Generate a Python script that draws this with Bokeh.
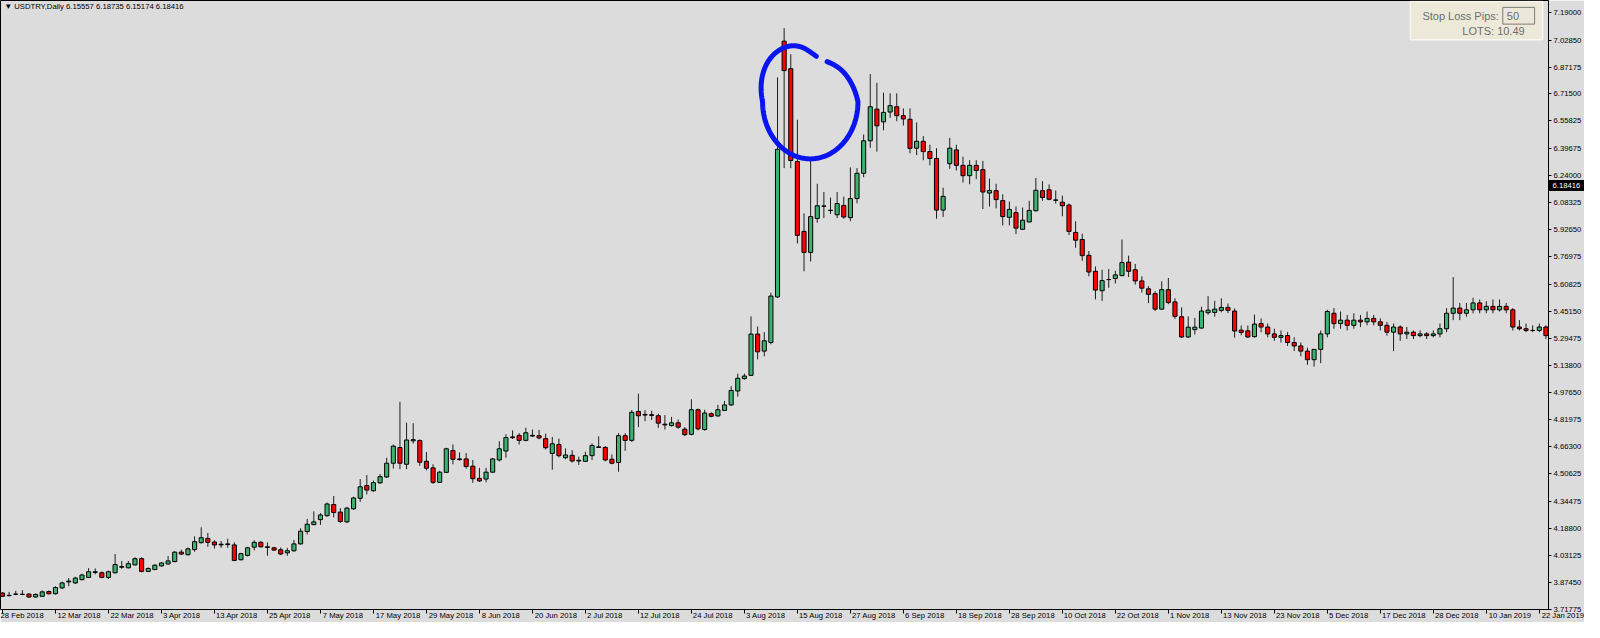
import numpy as np
from bokeh.plotting import figure
from bokeh.models import (ColumnDataSource, Range1d, FixedTicker, PrintfTickFormatter,
                          Label, BoxAnnotation, LinearAxis)
from bokeh.embed import file_html
from bokeh.resources import INLINE

# ---------------- data (bar index 0 = 28 Feb 2018) ----------------
opens = [3.813,3.800,3.806,3.805,3.807,3.790,3.794,3.822,3.809,3.843,
         3.878,3.872,3.891,3.904,3.933,3.931,3.904,3.931,3.963,3.960,
         3.977,4.013,3.939,3.950,3.971,3.982,3.996,4.051,4.036,4.066,
         4.106,4.131,4.110,4.097,4.095,4.093,4.007,4.032,4.080,4.108,
         4.082,4.076,4.065,4.047,4.059,4.099,4.171,4.211,4.240,4.263,
         4.328,4.284,4.227,4.303,4.364,4.438,4.408,4.454,4.488,4.568,
         4.659,4.562,4.698,4.700,4.579,4.541,4.457,4.515,4.642,4.593,
         4.593,4.551,4.480,4.476,4.516,4.587,4.639,4.717,4.730,4.701,
         4.726,4.728,4.711,4.625,4.677,4.600,4.614,4.585,4.579,4.612,
         4.663,4.660,4.591,4.572,4.728,4.701,4.869,4.852,4.850,4.844,
         4.795,4.787,4.803,4.766,4.736,4.879,4.764,4.856,4.843,4.875,
         4.907,4.988,5.060,5.079,5.319,5.220,5.270,5.535,7.022,6.862,
         6.322,5.916,5.794,5.991,6.062,6.039,6.013,6.067,5.996,6.107,
         6.254,6.443,6.627,6.553,6.610,6.641,6.589,6.568,6.400,6.440,
         6.380,6.340,6.040,6.310,6.390,6.300,6.240,6.300,6.275,6.139,
         6.153,6.095,5.998,6.025,5.928,5.971,6.036,6.153,6.158,6.099,
         6.086,6.069,5.910,5.869,5.777,5.684,5.571,5.636,5.642,5.659,
         5.737,5.693,5.628,5.582,5.554,5.464,5.577,5.506,5.420,5.302,
         5.345,5.354,5.443,5.445,5.457,5.474,5.453,5.342,5.338,5.304,
         5.380,5.360,5.320,5.300,5.310,5.270,5.250,5.220,5.170,5.230,
         5.320,5.440,5.380,5.400,5.370,5.400,5.390,5.410,5.390,5.370,
         5.330,5.360,5.320,5.330,5.310,5.320,5.310,5.320,5.350,5.440,
         5.470,5.440,5.460,5.500,5.460,5.480,5.460,5.480,5.460,5.360,
         5.350,5.340,5.340,5.360]
highs = [3.819,3.820,3.826,3.830,3.813,3.811,3.828,3.828,3.853,3.880,
         3.900,3.908,3.925,3.958,3.956,3.939,3.944,4.040,4.000,4.000,
         4.021,4.021,3.962,3.981,3.994,4.028,4.057,4.065,4.078,4.143,
         4.196,4.162,4.120,4.116,4.129,4.108,4.047,4.082,4.120,4.116,
         4.108,4.082,4.078,4.076,4.122,4.190,4.244,4.288,4.278,4.339,
         4.377,4.307,4.314,4.373,4.476,4.499,4.467,4.505,4.600,4.677,
         4.925,4.804,4.801,4.707,4.633,4.562,4.524,4.658,4.677,4.631,
         4.627,4.587,4.541,4.541,4.598,4.696,4.736,4.759,4.743,4.774,
         4.764,4.762,4.740,4.721,4.711,4.654,4.644,4.606,4.635,4.684,
         4.724,4.667,4.619,4.743,4.743,4.877,4.972,4.877,4.873,4.856,
         4.848,4.837,4.822,4.778,4.940,4.886,4.879,4.864,4.907,4.930,
         5.016,5.089,5.089,5.422,5.363,5.330,5.560,6.812,7.098,6.946,
         6.565,6.021,6.341,6.193,6.145,6.113,6.145,6.118,6.288,6.284,
         6.479,6.831,6.780,6.723,6.719,6.719,6.631,6.631,6.550,6.470,
         6.420,6.400,6.170,6.460,6.420,6.350,6.330,6.330,6.326,6.223,
         6.193,6.132,6.090,6.061,6.055,6.094,6.227,6.208,6.189,6.154,
         6.124,6.078,5.975,5.903,5.802,5.712,5.693,5.697,5.687,5.869,
         5.775,5.727,5.655,5.598,5.569,5.626,5.645,5.527,5.474,5.422,
         5.413,5.478,5.540,5.512,5.527,5.497,5.468,5.369,5.369,5.432,
         5.410,5.380,5.350,5.340,5.330,5.300,5.270,5.240,5.230,5.340,
         5.460,5.470,5.450,5.430,5.440,5.430,5.450,5.430,5.410,5.390,
         5.380,5.370,5.360,5.340,5.340,5.330,5.340,5.380,5.470,5.650,
         5.500,5.500,5.530,5.520,5.510,5.520,5.520,5.500,5.470,5.400,
         5.380,5.370,5.380,5.370]
lows = [3.790,3.794,3.801,3.801,3.786,3.786,3.790,3.805,3.805,3.836,
        3.853,3.866,3.887,3.900,3.922,3.899,3.895,3.927,3.954,3.956,
        3.973,3.933,3.935,3.946,3.967,3.979,3.992,4.034,4.032,4.053,
        4.101,4.082,4.072,4.076,4.076,3.999,4.002,4.026,4.061,4.078,
        4.030,4.059,4.034,4.030,4.053,4.095,4.154,4.208,4.209,4.257,
        4.253,4.221,4.221,4.297,4.343,4.387,4.402,4.448,4.482,4.537,
        4.534,4.534,4.682,4.553,4.526,4.448,4.454,4.511,4.562,4.583,
        4.536,4.454,4.459,4.457,4.513,4.579,4.600,4.709,4.677,4.696,
        4.721,4.707,4.648,4.530,4.602,4.591,4.572,4.558,4.576,4.587,
        4.658,4.579,4.562,4.518,4.640,4.692,4.778,4.812,4.820,4.774,
        4.764,4.781,4.768,4.726,4.730,4.759,4.757,4.835,4.839,4.871,
        4.902,4.955,5.054,5.075,5.172,5.190,5.260,5.530,6.284,6.284,
        5.846,5.684,5.741,5.966,5.993,6.017,5.994,5.989,5.975,6.080,
        6.231,6.402,6.380,6.504,6.576,6.557,6.532,6.370,6.360,6.330,
        6.300,5.990,6.000,6.280,6.270,6.200,6.190,6.220,6.046,6.061,
        6.050,5.951,5.951,5.901,5.926,5.968,6.033,6.094,6.097,6.078,
        6.004,5.895,5.821,5.745,5.655,5.521,5.512,5.588,5.613,5.655,
        5.651,5.607,5.560,5.499,5.453,5.459,5.493,5.407,5.296,5.296,
        5.316,5.350,5.432,5.420,5.445,5.441,5.298,5.312,5.298,5.298,
        5.330,5.300,5.280,5.270,5.250,5.220,5.190,5.140,5.130,5.150,
        5.300,5.350,5.350,5.340,5.350,5.360,5.370,5.370,5.340,5.310,
        5.220,5.280,5.290,5.290,5.300,5.290,5.300,5.300,5.330,5.400,
        5.400,5.420,5.440,5.440,5.440,5.440,5.450,5.440,5.340,5.340,
        5.330,5.330,5.330,5.290]
closes = [3.794,3.798,3.807,3.806,3.790,3.805,3.820,3.809,3.845,3.872,
          3.883,3.900,3.918,3.937,3.937,3.904,3.937,3.979,3.967,3.984,
          4.013,3.939,3.956,3.975,3.988,4.000,4.051,4.040,4.070,4.112,
          4.135,4.108,4.093,4.093,4.099,4.003,4.042,4.076,4.108,4.082,
          4.078,4.063,4.040,4.059,4.099,4.173,4.213,4.227,4.267,4.331,
          4.282,4.229,4.307,4.366,4.431,4.412,4.455,4.490,4.568,4.667,
          4.568,4.703,4.705,4.574,4.539,4.457,4.516,4.652,4.591,4.589,
          4.549,4.478,4.465,4.516,4.593,4.652,4.717,4.721,4.701,4.745,
          4.730,4.715,4.658,4.681,4.612,4.616,4.581,4.581,4.612,4.671,
          4.660,4.587,4.568,4.728,4.701,4.864,4.844,4.848,4.846,4.801,
          4.791,4.803,4.778,4.734,4.879,4.768,4.860,4.841,4.879,4.907,
          4.991,5.062,5.075,5.319,5.216,5.280,5.540,6.393,6.851,6.328,
          5.893,5.794,6.002,6.065,6.064,6.037,6.078,6.000,6.107,6.254,
          6.443,6.641,6.530,6.608,6.647,6.589,6.570,6.399,6.440,6.380,
          6.340,6.040,6.120,6.400,6.300,6.240,6.300,6.270,6.145,6.154,
          6.101,6.002,6.044,5.935,5.981,6.038,6.155,6.113,6.103,6.097,
          6.065,5.916,5.865,5.775,5.680,5.575,5.630,5.636,5.663,5.735,
          5.684,5.628,5.586,5.550,5.464,5.577,5.502,5.422,5.302,5.359,
          5.359,5.453,5.458,5.464,5.474,5.457,5.337,5.329,5.302,5.377,
          5.360,5.320,5.300,5.310,5.270,5.250,5.220,5.170,5.230,5.320,
          5.450,5.380,5.400,5.370,5.400,5.390,5.410,5.390,5.370,5.330,
          5.360,5.320,5.330,5.310,5.320,5.310,5.320,5.350,5.440,5.470,
          5.440,5.460,5.500,5.460,5.480,5.460,5.480,5.460,5.360,5.350,
          5.340,5.340,5.360,5.310]

date_labels = ["28 Feb 2018", "12 Mar 2018", "22 Mar 2018", "3 Apr 2018", "13 Apr 2018",
               "25 Apr 2018", "7 May 2018", "17 May 2018", "29 May 2018", "8 Jun 2018",
               "20 Jun 2018", "2 Jul 2018", "12 Jul 2018", "24 Jul 2018", "3 Aug 2018",
               "15 Aug 2018", "27 Aug 2018", "6 Sep 2018", "18 Sep 2018", "28 Sep 2018",
               "10 Oct 2018", "22 Oct 2018", "1 Nov 2018", "13 Nov 2018", "23 Nov 2018",
               "5 Dec 2018", "17 Dec 2018", "28 Dec 2018", "10 Jan 2019", "22 Jan 2019"]
date_label_step = 8
price_ticks = [7.19, 7.0285, 6.87175, 6.715, 6.55825, 6.39675, 6.24, 6.08325, 5.9265,
               5.76975, 5.60825, 5.4515, 5.29475, 5.138, 4.9765, 4.81975, 4.663,
               4.50625, 4.34475, 4.188, 4.03125, 3.8745, 3.71775]
header_text = "\u25BC USDTRY,Daily  6.15557 6.18735 6.15174 6.18416"
last_price = 6.18416

# ---------------- helpers: reference-pixel -> data ----------------
def rx(px):
    return (px - 5.0) / 6.667

def ry(py):
    return 7.19 - (py - 15.0) / 174.8

BG = "#DCDCDC"
UP = "#3CB371"
DOWN = "#FF0000"
FONT = "Liberation Sans"
AX_FS = 7.7

# approximate Liberation Sans advance widths (em), used to left-align date labels after their tick
_W = {' ': .278, 'F': .611, 'e': .556, 'b': .556, 'M': .833, 'a': .556, 'r': .333, 'A': .667,
      'p': .556, 'y': .5, 'J': .5, 'u': .556, 'n': .556, 'l': .222, 'g': .556, 'S': .667,
      'O': .778, 'c': .5, 't': .278, 'N': .722, 'o': .556, 'v': .5, 'D': .722}
def text_w(s, fs):
    return sum(_W.get(ch, .556) for ch in s) * fs

NBSP = "\u00A0"
def left_aligned(s, fs, gap=2.0):
    # pad with no-break spaces so a centred label starts `gap` px right of its tick
    k = int(round((text_w(s, fs) + 2 * gap) / (0.278 * fs)))
    return NBSP * k + s

n = len(opens)
idx = list(range(n))
src = ColumnDataSource(dict(
    x=idx, open=opens, high=highs, low=lows, close=closes,
    top=[max(o, c) for o, c in zip(opens, closes)],
    bottom=[min(o, c) for o, c in zip(opens, closes)],
    color=[UP if c >= o else DOWN for o, c in zip(opens, closes)],
))

FIG_W, FIG_H = 1584, 622
X0, X1 = rx(3), rx(1561)
p = figure(width=FIG_W, height=FIG_H, output_backend="svg", toolbar_location=None,
           x_range=Range1d(X0, X1), y_range=Range1d(ry(622), ry(3)),
           x_axis_location="below", y_axis_location="right",
           min_border_left=0, min_border_top=0, min_border_right=0, min_border_bottom=0)
p.background_fill_color = BG
p.border_fill_color = BG
p.outline_line_color = "black"
p.outline_line_width = 1
p.grid.visible = False

# x axis: tick at each labelled bar, text starting just right of the tick
# (the first label sits at the canvas edge, where Bokeh keeps it inside the canvas)
tick_pos = [i * date_label_step for i in range(len(date_labels))]
xa = p.xaxis[0]
xa.ticker = FixedTicker(ticks=tick_pos)
xa.major_label_overrides = {tp: (s if i == 0 else left_aligned(s, AX_FS))
                            for i, (tp, s) in enumerate(zip(tick_pos, date_labels))}
xa.major_label_text_font = FONT
xa.major_label_text_font_size = "%gpx" % AX_FS
xa.major_label_text_color = "black"
xa.major_label_standoff = -3
xa.major_tick_out = 4
xa.major_tick_in = 0
xa.minor_tick_out = 0
xa.minor_tick_in = 0
xa.axis_line_color = "black"
xa.major_tick_line_color = "black"

# price axis on the right
ya = p.yaxis[0]
ya.ticker = FixedTicker(ticks=price_ticks)
ya.formatter = PrintfTickFormatter(format="%.5f")
ya.major_label_text_font = FONT
ya.major_label_text_font_size = "%gpx" % AX_FS
ya.major_label_text_color = "black"
ya.major_label_standoff = 2
ya.major_tick_out = 3
ya.major_tick_in = 0
ya.minor_tick_out = 0
ya.minor_tick_in = 0
ya.axis_line_color = "black"
ya.major_tick_line_color = "black"

# current price tag: an extra right axis whose single thick inward tick forms the black box
tag = LinearAxis(ticker=FixedTicker(ticks=[last_price]),
                 formatter=PrintfTickFormatter(format="%.5f"),
                 axis_line_color=None, major_tick_in=36, major_tick_out=0,
                 major_tick_line_width=11, major_tick_line_color="black",
                 major_tick_line_cap="butt",
                 minor_tick_in=0, minor_tick_out=0,
                 major_label_text_color="white", major_label_text_font=FONT,
                 major_label_text_font_size="%gpx" % AX_FS, major_label_standoff=-32)
p.add_layout(tag, "right")

# candles
p.segment(x0="x", y0="low", x1="x", y1="high", source=src, line_color="#1E1E1E", line_width=1)
p.vbar(x="x", width=0.62, top="top", bottom="bottom", source=src,
       fill_color="color", line_color="black", line_width=1)

# hand-drawn blue loop around the August spike
td = np.arange(66, 52 + 360 + 1, 2.0)
t = np.radians(td)
tm = np.mod(td, 360)
r = 1 - 0.13 * np.exp(-((tm - 62) / 22.0) ** 2)
px_ = 818.0 + 48.0 * r * np.cos(t) - 12.0 * np.clip(np.sin(t), 0, None)
py_ = 106.0 - 58.0 * r * np.sin(t)
p.line(x=rx(px_), y=ry(py_), line_color="#0A14F0", line_width=5,
       line_cap="round", line_join="round")

# header text
p.add_layout(Label(x=rx(7), y=ry(9), text=header_text, text_font=FONT,
                   text_font_size="7.7px", text_color="black", text_baseline="middle"))

# Stop loss panel
p.add_layout(BoxAnnotation(left=rx(1422), right=rx(1555), top=ry(4), bottom=ry(43),
                           fill_color="#ECE9D8", fill_alpha=1.0,
                           line_color="#F7F6F0", line_width=1.5, line_alpha=1.0))
p.add_layout(BoxAnnotation(left=rx(1515), right=rx(1547), top=ry(10), bottom=ry(27),
                           fill_color="#EBE8D9", fill_alpha=1.0,
                           line_color="#7A7A7A", line_width=1, line_alpha=1.0))
p.add_layout(Label(x=rx(1511), y=ry(18.5), text="Stop Loss Pips:", text_font=FONT,
                   text_font_size="11px", text_color="#6E6E6E", text_align="right",
                   text_baseline="middle"))
p.add_layout(Label(x=rx(1519), y=ry(18.5), text="50", text_font=FONT,
                   text_font_size="11px", text_color="#6E6E6E", text_align="left",
                   text_baseline="middle"))
p.add_layout(Label(x=rx(1537), y=ry(33.5), text="LOTS: 10.49", text_font=FONT,
                   text_font_size="11px", text_color="#6E6E6E", text_align="right",
                   text_baseline="middle"))

open("out.html", "w").write(file_html(p, INLINE))
